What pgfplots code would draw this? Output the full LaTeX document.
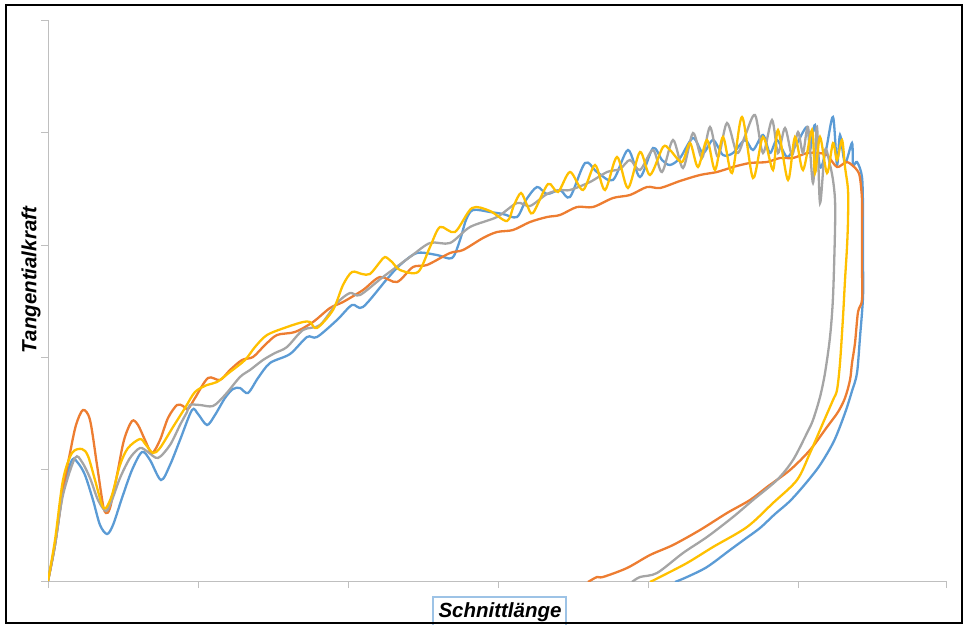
\documentclass[border=0pt]{standalone}
\usepackage{pgfplots}
\pgfplotsset{compat=1.18}
\usepackage{fontspec}
\setmainfont{Liberation Sans}
\definecolor{sblue}{HTML}{5B9BD5}
\definecolor{sorange}{HTML}{ED7D31}
\definecolor{sgray}{HTML}{A5A5A5}
\definecolor{syellow}{HTML}{FFC000}
\definecolor{axgray}{HTML}{BFBFBF}
\definecolor{boxblue}{RGB}{157,195,230}
\begin{document}
\begin{tikzpicture}
\path[use as bounding box] (0pt,0pt) rectangle (965pt,625pt);
\begin{axis}[
  at={(48pt,44pt)}, anchor=south west,
  width=898pt, height=561pt, scale only axis,
  xmin=0, xmax=898, ymin=0, ymax=561,
  axis x line=bottom, axis y line=left,
  axis line style={-, draw=axgray, line width=1pt},
  xtick={0,150,300,450,600,750,898}, ytick={0,112,224,336,448,560},
  xticklabels={}, yticklabels={},
  tick align=outside, major tick length=7pt,
  tick style={draw=axgray, line width=1pt},
  every axis plot/.append style={line width=2.3pt, smooth, tension=0.5, mark=none},
]
% blue
\addplot[sblue] coordinates {
(0,0) (7,36) (15,91) (24,121) (30,118) (37,106) (45,81) (52,56) (59,47) (65,56)
(74,83) (84,111) (94,129) (102,121) (113,101) (122,116) (132,141) (144,171) (150,167)
(159,156) (167,166) (177,183) (185,192) (192,193) (200,188) (210,203) (222,218)
(242,227) (259,244) (269,244) (289,261) (304,276) (315,274) (339,302) (352,316)
(369,328) (389,326) (404,323) (412,341) (418,361) (425,371) (442,369) (455,367)
(469,364) (478,381) (489,394) (499,387) (512,391) (522,384) (537,418) (549,409)
(565,401) (580,431) (592,404) (605,433) (614,421) (622,416) (632,423) (645,443)
(655,428) (665,441) (675,426) (685,428) (697,441) (705,431) (715,446) (722,428)
(729,441) (739,424) (748,436) (759,454) (762,431) (767,456) (772,414) (778,431)
(785,464) (789,416) (792,446) (797,418) (804,438) (805,416) (809,419) (814,404)
(815,368) (815,321) (815,284) (812,244) (809,208) (804,190) (797,168) (786,140)
(772,116) (758,98) (742,80) (727,67) (712,53) (697,42) (682,31) (659,14) (639,4) (627,-1)
};
% orange
\addplot[sorange] coordinates {
(0,0) (7,36) (15,91) (22,128) (28,156) (35,171) (42,161) (49,116) (55,76) (58,68)
(62,73) (69,106) (76,141) (84,160) (90,156) (97,141) (104,128) (112,141) (120,163)
(129,176) (135,175) (140,172) (147,183) (160,203) (172,201) (182,211) (194,221)
(205,224) (217,236) (229,246) (247,249) (265,259) (282,273) (295,279) (315,291)
(332,304) (349,299) (365,314) (379,316) (402,328) (415,331) (435,343) (449,349)
(465,351) (482,359) (499,364) (512,366) (529,374) (545,374) (565,383) (582,386)
(599,394) (612,393) (632,400) (652,406) (669,409) (685,414) (702,418) (719,419)
(732,423) (745,423) (759,428) (769,428) (779,426) (789,414) (799,419) (809,411)
(812,403) (814,381) (814,351) (814,316) (814,281) (810,269) (807,238) (804,218)
(802,201) (797,183) (790,169) (779,154) (762,131) (742,111) (719,94) (702,81)
(679,68) (652,51) (625,36) (602,26) (579,13) (555,4) (549,4) (540,-1)
};
% gray
\addplot[sgray] coordinates {
(0,0) (7,36) (15,86) (27,123) (34,119) (42,103) (50,81) (58,70) (64,81) (72,103)
(82,123) (92,133) (100,129) (110,123) (122,136) (132,156) (139,169) (142,176)
(152,176) (165,175) (177,186) (192,204) (202,211) (215,221) (227,228) (239,234)
(255,251) (272,256) (289,278) (302,288) (312,286) (335,304) (362,324) (382,338)
(402,338) (422,354) (449,364) (469,378) (482,375) (499,387) (512,391) (522,391)
(542,399) (559,409) (572,412) (582,421) (592,411) (605,431) (614,409) (625,441)
(635,413) (645,448) (654,423) (662,454) (670,424) (679,458) (689,428) (697,445)
(707,466) (715,428) (724,461) (730,428) (737,453) (744,426) (750,449) (755,428)
(760,454) (765,398) (769,454) (772,378) (777,431) (782,416) (785,401) (787,381)
(787,351) (785,284) (782,244) (777,208) (772,184) (765,161) (759,148) (745,121)
(729,101) (705,81) (685,64) (659,44) (635,28) (609,8) (592,4) (584,-1)
};
% yellow
\addplot[syellow] coordinates {
(0,0) (7,41) (15,101) (24,128) (34,132) (40,125) (47,101) (54,76) (58,73) (64,86)
(72,116) (80,133) (92,142) (98,136) (105,128) (112,133) (125,154) (137,173)
(147,189) (159,196) (169,199) (182,209) (197,221) (207,234) (219,246) (239,254)
(255,259) (262,259) (269,253) (285,271) (295,296) (304,309) (314,307) (322,307)
(332,319) (337,324) (344,319) (352,311) (370,309) (382,334) (392,354) (407,349)
(424,373) (442,370) (459,360) (466,376) (473,388) (479,376) (485,368) (500,397)
(510,389) (522,409) (535,391) (547,416) (557,391) (569,424) (580,393) (592,429)
(602,406) (615,434) (622,431) (634,419) (642,438) (650,414) (659,441) (667,411)
(675,444) (684,408) (694,464) (705,403) (715,444) (725,411) (730,451) (740,401)
(747,444) (755,411) (764,451) (767,408) (772,444) (779,408) (785,438) (789,421)
(794,441) (797,414) (800,391) (800,361) (799,334) (797,301) (795,264) (792,218)
(789,191) (785,181) (775,158) (762,128) (749,101) (725,78) (699,54) (665,34)
(639,18) (612,4) (602,-1)
};
\end{axis}
\node[rotate=90, font=\fontsize{20.5}{24}\selectfont\bfseries\itshape] at (31pt,345pt) {Tangentialkraft};
\draw[draw=boxblue, line width=1.2pt] (433pt,0pt) -- (433pt,28pt) -- (566pt,28pt) -- (566pt,0pt);
\node[anchor=base, font=\fontsize{20.5}{24}\selectfont\bfseries\itshape] at (500pt,8pt) {Schnittlänge};
\draw[line width=2.5pt] (6pt,2pt) rectangle (962pt,620pt);
\end{tikzpicture}
\end{document}
